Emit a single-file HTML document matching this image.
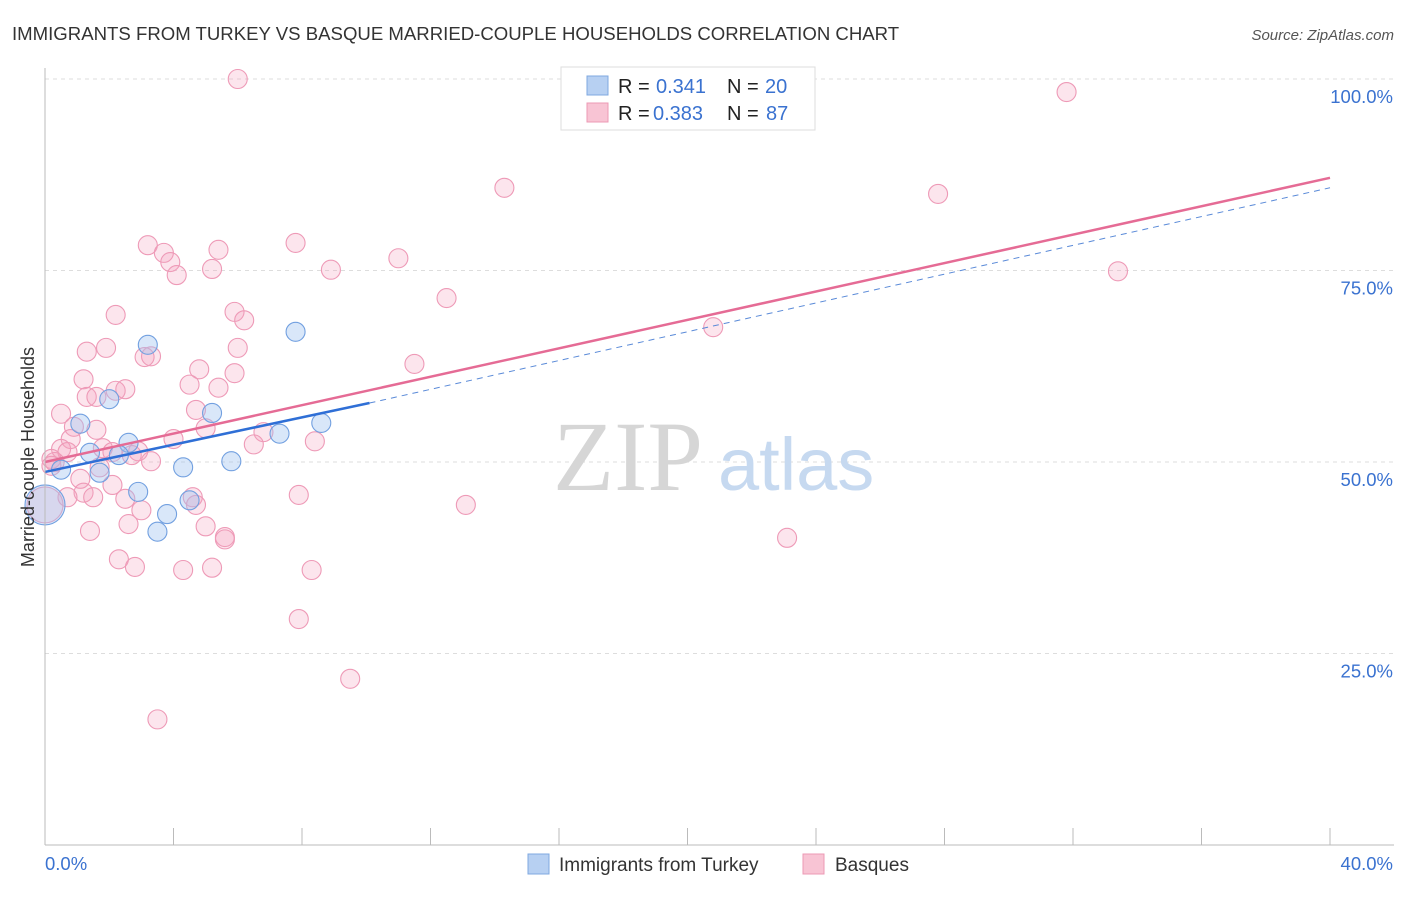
<!DOCTYPE html>
<html><head><meta charset="utf-8"><style>
body{margin:0;background:#fff;font-family:"Liberation Sans",sans-serif;}
svg text{font-family:"Liberation Sans",sans-serif;}
</style></head><body>
<svg id="chart" width="1406" height="892" viewBox="0 0 1406 892" xmlns="http://www.w3.org/2000/svg">
<text x="12" y="40" font-size="18.6" fill="#333">IMMIGRANTS FROM TURKEY VS BASQUE MARRIED-COUPLE HOUSEHOLDS CORRELATION CHART</text>
<text x="1394" y="40" font-size="15" fill="#555" text-anchor="end" font-style="italic">Source: ZipAtlas.com</text>
<g id="grid"></g>
<g>
<text x="553" y="490" font-size="100" fill="#d6d6d6" style="font-family:'Liberation Serif',serif">ZIP</text>
<text x="718" y="490" font-size="74" fill="#c6d9f0">atlas</text>
</g>
<g id="pts"></g>
<g id="lines"></g>
<line x1="45" y1="845" x2="1394" y2="845" stroke="#bbb"/>
<line x1="45" y1="68" x2="45" y2="845" stroke="#bbb"/>
<g id="axes"></g>
<text transform="translate(34,457) rotate(-90)" font-size="18" fill="#333" text-anchor="middle">Married-couple Households</text>
<g>
<rect x="561" y="67" width="254" height="63" fill="#fff" stroke="#ddd"/>
<rect x="587" y="76" width="21" height="19" fill="#b7d0f2" stroke="#7fa8e0"/>
<rect x="587" y="103" width="21" height="19" fill="#f8c4d4" stroke="#ec9ab4"/>
<text x="618" y="93" font-size="20" fill="#222">R = </text><text x="656" y="93" font-size="20" fill="#3a72d0">0.341</text>
<text x="727" y="93" font-size="20" fill="#222">N = </text><text x="765" y="93" font-size="20" fill="#3a72d0">20</text>
<text x="618" y="120" font-size="20" fill="#222">R = </text><text x="653" y="120" font-size="20" fill="#3a72d0">0.383</text>
<text x="727" y="120" font-size="20" fill="#222">N = </text><text x="766" y="120" font-size="20" fill="#3a72d0">87</text>
</g>
<g>
<rect x="528" y="854" width="21" height="20" fill="#b7d0f2" stroke="#7fa8e0"/>
<text x="559" y="871" font-size="19" fill="#333">Immigrants from Turkey</text>
<rect x="803" y="854" width="21" height="20" fill="#f8c4d4" stroke="#ec9ab4"/>
<text x="835" y="871" font-size="19" fill="#333">Basques</text>
</g>
</svg>
<script>
const yTicks=[25,50,75,100];
const yTickLabels=["25.0%","50.0%","75.0%","100.0%"];
const xTicks=[0,4,8,12,16,20,24,28,32,36,40];
const xEndLabels=["0.0%","40.0%"];
const pinkX=[6.0,31.8,14.3,27.8,3.2,7.8,3.7,5.4,3.9,4.1,5.2,8.9,11.0,12.5,33.4,2.2,5.9,6.2,20.8,1.3,1.9,3.3,3.1,6.0,1.2,4.8,5.9,11.5,2.2,2.5,4.5,5.4,1.3,1.6,0.5,4.7,5.0,0.9,1.6,0.8,6.8,4.0,8.4,0.5,0.7,1.8,2.1,2.9,6.5,0.2,0.3,0.2,3.3,2.7,1.7,1.1,2.1,1.2,0.7,1.5,2.5,3.0,4.6,4.7,5.0,7.9,13.1,1.4,2.6,5.6,5.6,23.1,2.3,2.8,4.3,5.2,8.3,7.9,9.5,3.5,0.0];
const pinkY=[100.0,98.3,85.8,85.0,78.3,78.6,77.3,77.7,76.1,74.4,75.2,75.1,76.6,71.4,74.9,69.2,69.6,68.5,67.6,64.4,64.9,63.8,63.7,64.9,60.8,62.1,61.6,62.8,59.3,59.5,60.1,59.7,58.5,58.5,56.3,56.8,54.4,54.6,54.2,53.0,53.9,53.0,52.7,51.7,51.3,51.8,51.3,51.4,52.3,50.4,50.0,49.5,50.1,50.9,49.3,47.8,47.0,46.0,45.4,45.4,45.2,43.7,45.4,44.4,41.6,45.7,44.4,41.0,41.9,40.2,39.9,40.1,37.3,36.3,35.9,36.2,35.9,29.5,21.7,16.4,44.4];
const blueX=[3.2,7.8,2.0,5.2,1.1,8.6,7.3,2.6,1.4,2.3,0.5,4.3,1.7,5.8,2.9,4.5,3.8,3.5,0.0];
const blueY=[65.3,67.0,58.2,56.4,55.0,55.1,53.7,52.5,51.2,50.9,49.0,49.3,48.6,50.1,46.1,45.0,43.2,40.9,44.4];
const pinkLine=[[0,50.0],[40,87.1]];
const blueLine=[[0,48.7],[10.1,57.7]];
const blueDash=[[10.1,57.7],[40,85.8]];
const NS="http://www.w3.org/2000/svg";
function sx(v){return 45+v/40*1285;}
function sy(v){return 845-v/100*766;}
function mk(tag,attrs,parent){const e=document.createElementNS(NS,tag);for(const k in attrs)e.setAttribute(k,attrs[k]);parent.appendChild(e);return e;}
const grid=document.getElementById('grid'),axes=document.getElementById('axes'),pts=document.getElementById('pts'),lines=document.getElementById('lines');
yTicks.forEach((t,i)=>{
 const l=mk('line',{x1:45,x2:1394,y1:sy(t),y2:sy(t),stroke:'#ddd','stroke-dasharray':'4,4'},grid);
 
 
 const tx=mk('text',{x:1393,y:sy(t)+24,'font-size':18.5,fill:'#3a72d0','text-anchor':'end'},axes);
 tx.textContent=yTickLabels[i];
 
 
});
xTicks.forEach(t=>{
 const l=mk('line',{x1:sx(t),x2:sx(t),y1:828,y2:845,stroke:'#bbb'},axes);
 
 
});
const xl0=mk('text',{x:45,y:870,'font-size':18.5,fill:'#3a72d0'},axes);xl0.textContent=xEndLabels[0];


const xl1=mk('text',{x:1393,y:870,'font-size':18.5,fill:'#3a72d0','text-anchor':'end'},axes);xl1.textContent=xEndLabels[1];


pinkX.forEach((x,i)=>{
 const big=(i===pinkX.length-1);
 const c=mk('circle',{cx:sx(x),cy:sy(pinkY[i]),r:big?18:9.5,fill:'rgba(244,160,190,0.28)',stroke:'#ee9ab7','stroke-width':1.1},pts);
 
 
});
blueX.forEach((x,i)=>{
 const big=(i===blueX.length-1);
 const c=mk('circle',{cx:sx(x),cy:sy(blueY[i]),r:big?20:9.5,fill:'rgba(160,195,240,0.4)',stroke:'#72a0e0','stroke-width':1.1},pts);
 
 
});
function ln(p,col,w,dash,name){const l=mk('line',{x1:sx(p[0][0]),y1:sy(p[0][1]),x2:sx(p[1][0]),y2:sy(p[1][1]),stroke:col,'stroke-width':w},lines);if(dash)l.setAttribute('stroke-dasharray',dash);
 
 }
ln(blueDash,'#5a8ad8',1,'6,5','turkey-trend-extension');
ln(pinkLine,'#e56b95',2.5,null,'basques-trend-line');
ln(blueLine,'#2f6fd6',2.5,null,'turkey-trend-line');
</script>
</body></html>
